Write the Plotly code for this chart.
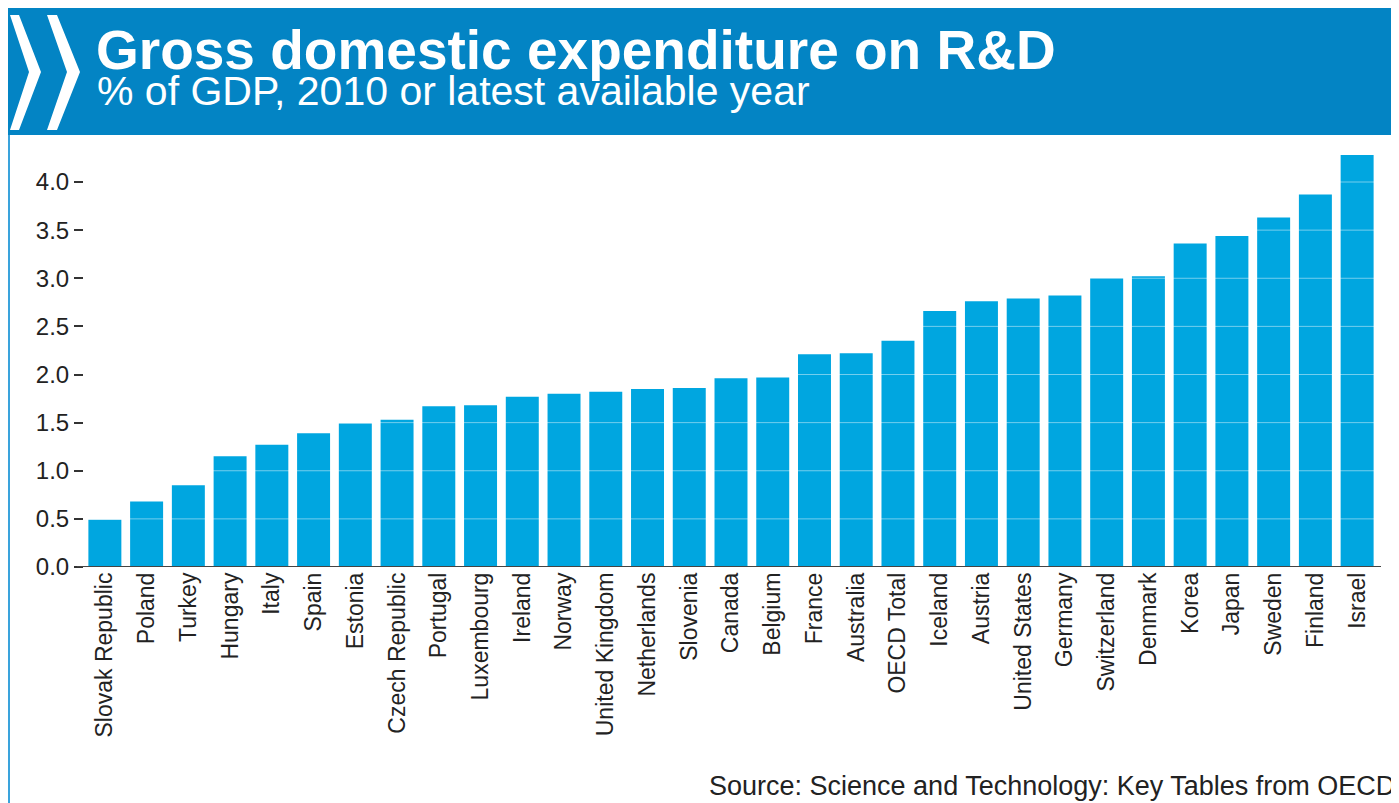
import plotly.graph_objects as go

countries = ["Slovak Republic", "Poland", "Turkey", "Hungary", "Italy", "Spain", "Estonia",
             "Czech Republic", "Portugal", "Luxembourg", "Ireland", "Norway", "United Kingdom",
             "Netherlands", "Slovenia", "Canada", "Belgium", "France", "Australia", "OECD Total",
             "Iceland", "Austria", "United States", "Germany", "Switzerland", "Denmark", "Korea",
             "Japan", "Sweden", "Finland", "Israel"]
values = [0.49, 0.68, 0.85, 1.15, 1.27, 1.39, 1.49,
          1.53, 1.67, 1.68, 1.77, 1.80, 1.82,
          1.85, 1.86, 1.96, 1.97, 2.21, 2.22, 2.35,
          2.66, 2.76, 2.79, 2.82, 3.00, 3.02, 3.36,
          3.44, 3.63, 3.87, 4.28]
y_ticks = [0.0, 0.5, 1.0, 1.5, 2.0, 2.5, 3.0, 3.5, 4.0]
y_tick_labels = ["0.0", "0.5", "1.0", "1.5", "2.0", "2.5", "3.0", "3.5", "4.0"]

title = "Gross domestic expenditure on R&D"
subtitle = "% of GDP, 2010 or latest available year"
source = "Source: Science and Technology: Key Tables from OECD"

FONT = "Liberation Sans, Arial, sans-serif"
BAR = "#00A6E0"
HEADER = "#0384C4"

# the page body has an 8px margin; lay out in page pixels and shift
OFF = 8
W_PAGE, H_PAGE = 1399, 803
FIG_W, FIG_H = W_PAGE - OFF, H_PAGE - OFF
# plot area in page pixels
L, R, T, B = 84, 1378, 150, 567
PW, PH = R - L, B - T


def xp(px):
    return (px - L) / PW


def yp(py):
    return (B - py) / PH


fig = go.Figure(go.Bar(x=countries, y=values, marker=dict(color=BAR, line=dict(width=0)),
                       hoverinfo="x+y"))

shapes = []
# header band
shapes.append(dict(type="rect", xref="paper", yref="paper", x0=xp(OFF - 2), x1=xp(W_PAGE + 5),
                   y0=yp(135), y1=yp(5), fillcolor=HEADER, line=dict(width=0), layer="below"))


def chevron(x_left, x_notch, x_right_top, x_tip, ytop, ymid, ybot):
    pts = [(x_left, ytop), (x_right_top, ytop), (x_tip, ymid), (x_right_top, ybot),
           (x_left, ybot), (x_notch, ymid)]
    s = "M " + " L ".join(f"{xp(a):.5f},{yp(b):.5f}" for a, b in pts) + " Z"
    return dict(type="path", xref="paper", yref="paper", path=s, fillcolor="white",
                line=dict(width=0), layer="above")


shapes.append(chevron(10, 29, 19, 41, 15, 72, 130))
shapes.append(chevron(47, 67, 57, 80, 15, 72, 130))
# left border line
shapes.append(dict(type="line", xref="paper", yref="paper", x0=xp(9), x1=xp(9),
                   y0=yp(135), y1=yp(H_PAGE + 5), line=dict(color="#3AA3DC", width=2)))
# faint gridlines visible over bars
for v in y_ticks[1:]:
    shapes.append(dict(type="line", xref="paper", yref="y", x0=0, x1=1, y0=v, y1=v,
                       line=dict(color="rgba(255,255,255,0.45)", width=1), layer="above"))
# baseline
shapes.append(dict(type="line", xref="paper", yref="y", x0=xp(77), x1=xp(1381), y0=0, y1=0,
                   line=dict(color="#444444", width=2), layer="above"))

annotations = [
    dict(text=f"<b>{title}</b>", xref="paper", yref="paper", x=xp(94), y=yp(50),
         xanchor="left", yanchor="middle", showarrow=False,
         font=dict(family=FONT, size=55, color="white")),
    dict(text=subtitle, xref="paper", yref="paper", x=xp(95), y=yp(91),
         xanchor="left", yanchor="middle", showarrow=False,
         font=dict(family=FONT, size=41, color="white")),
    dict(text=source, xref="paper", yref="paper", x=xp(1397), y=yp(786),
         xanchor="right", yanchor="middle", showarrow=False,
         font=dict(family=FONT, size=27, color="#222222")),
]

fig.update_layout(
    width=FIG_W, height=FIG_H,
    margin=dict(l=L - OFF, r=W_PAGE - R, t=T - OFF, b=H_PAGE - B, pad=0),
    paper_bgcolor="white", plot_bgcolor="white",
    bargap=0.21, showlegend=False,
    shapes=shapes, annotations=annotations,
    font=dict(family=FONT, color="#222222"),
    xaxis=dict(tickangle=-90, tickfont=dict(size=23, color="#222222"), showgrid=False,
               showline=False, ticks="", zeroline=False, automargin=False),
    yaxis=dict(range=[0, PH / 96.25], tickvals=y_ticks, ticktext=y_tick_labels,
               tickfont=dict(size=24, color="#222222"), ticks="outside", ticklen=9,
               tickwidth=1.5, tickcolor="#333333", showgrid=False, showline=False,
               zeroline=False, automargin=False),
)

fig.write_html("out.html")
